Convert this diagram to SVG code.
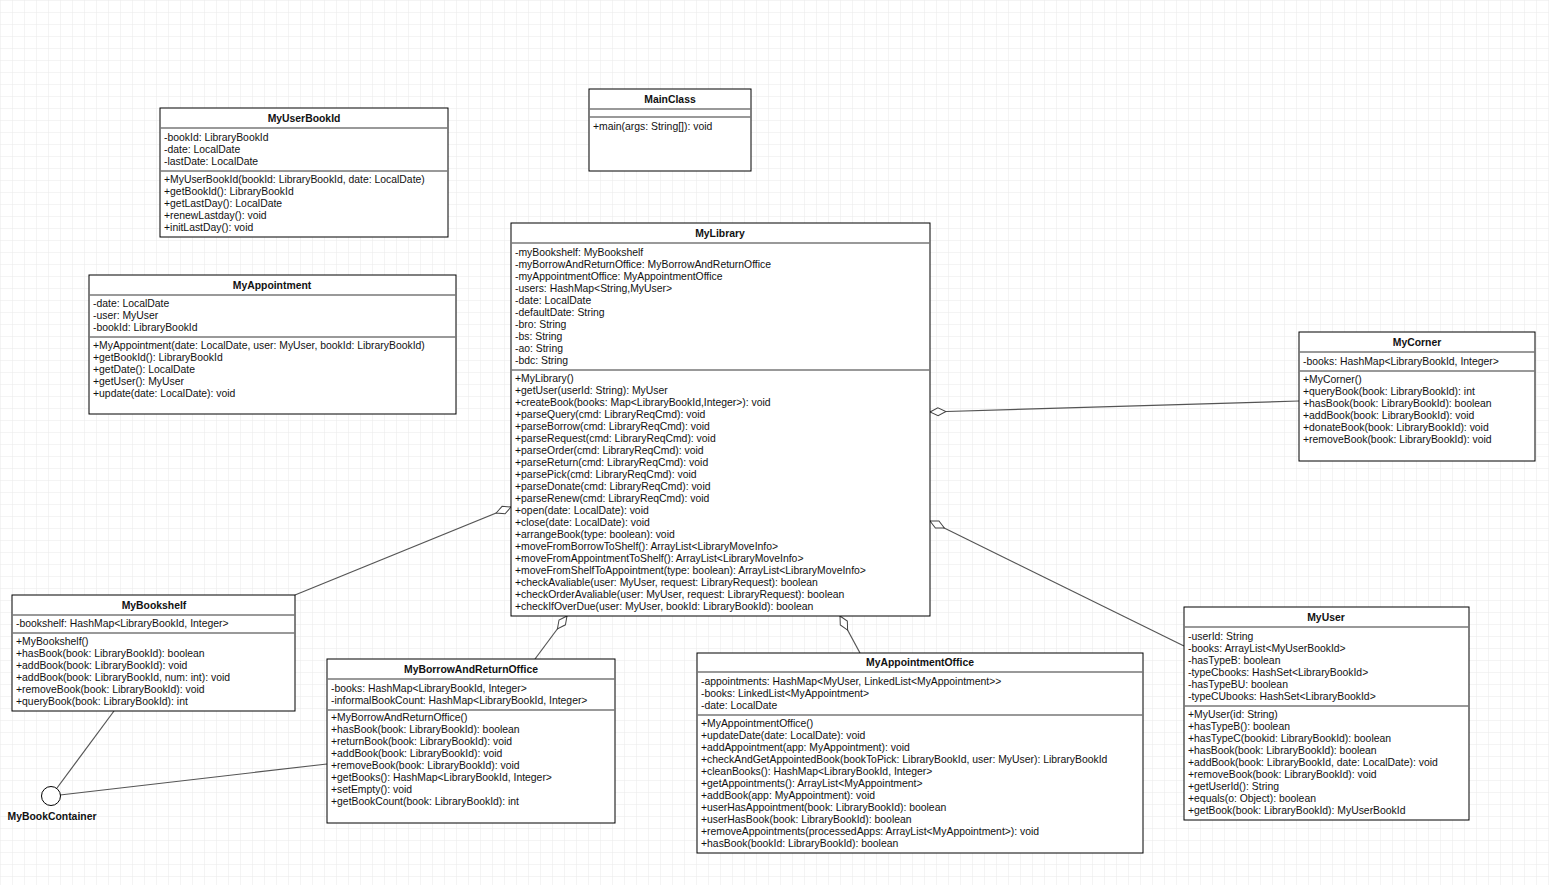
<svg xmlns="http://www.w3.org/2000/svg" width="1549" height="885" viewBox="0 0 1549 885">
<defs>
<pattern id="grid" width="12" height="12" patternUnits="userSpaceOnUse">
<path d="M12 0 L0 0 0 12" fill="none" stroke="#e9e9e9" stroke-width="1"/>
</pattern>
<marker id="dia" viewBox="0 0 18 10" refX="1" refY="5" markerWidth="18" markerHeight="10" markerUnits="userSpaceOnUse" orient="auto">
<path d="M1 5 L9 1 L17 5 L9 9 Z" fill="#fff" stroke="#444" stroke-width="1"/>
</marker>
</defs>
<style>
.box{fill:#fff;stroke:#000;stroke-width:1}
.sep{stroke:#777;stroke-width:1.3}
.t{font-family:"Liberation Sans",Arial,sans-serif;font-size:10.4px;fill:#111}
.h{font-family:"Liberation Sans",Arial,sans-serif;font-size:10.4px;font-weight:bold;fill:#111;text-anchor:middle}
.c{fill:none;stroke:#555;stroke-width:1.2}
</style>
<rect width="1549" height="885" fill="#fff"/>
<rect width="1549" height="885" fill="url(#grid)"/>

<g id="connectors">
<path class="c" d="M511 507 L295 595" marker-start="url(#dia)"/>
<path class="c" d="M567 616 L535 659" marker-start="url(#dia)"/>
<path class="c" d="M840 616 L860 653" marker-start="url(#dia)"/>
<path class="c" d="M930 521 L1184 646" marker-start="url(#dia)"/>
<path class="c" d="M930 412 L1299 401" marker-start="url(#dia)"/>
<path class="c" d="M57 788 L114 711"/>
<path class="c" d="M60 795 L327 764"/>
</g>

<g id="MyUserBookId">
<rect class="box" x="160" y="108" width="288" height="129"/>
<text class="h" x="304" y="122">MyUserBookId</text>
<line class="sep" x1="160" y1="128" x2="448" y2="128"/>
<text class="t" x="164" y="141">-bookId: LibraryBookId</text>
<text class="t" x="164" y="153">-date: LocalDate</text>
<text class="t" x="164" y="165">-lastDate: LocalDate</text>
<line class="sep" x1="160" y1="171" x2="448" y2="171"/>
<text class="t" x="164" y="183">+MyUserBookId(bookId: LibraryBookId, date: LocalDate)</text>
<text class="t" x="164" y="195">+getBookId(): LibraryBookId</text>
<text class="t" x="164" y="207">+getLastDay(): LocalDate</text>
<text class="t" x="164" y="219">+renewLastday(): void</text>
<text class="t" x="164" y="231">+initLastDay(): void</text>
</g>

<g id="MainClass">
<rect class="box" x="589" y="89" width="162" height="82"/>
<text class="h" x="670" y="103">MainClass</text>
<line class="sep" x1="589" y1="109" x2="751" y2="109"/>
<line class="sep" x1="589" y1="117" x2="751" y2="117"/>
<text class="t" x="593" y="130">+main(args: String[]): void</text>
</g>

<g id="MyAppointment">
<rect class="box" x="89" y="275" width="367" height="139"/>
<text class="h" x="272" y="289">MyAppointment</text>
<line class="sep" x1="89" y1="295" x2="456" y2="295"/>
<text class="t" x="93" y="307">-date: LocalDate</text>
<text class="t" x="93" y="319">-user: MyUser</text>
<text class="t" x="93" y="331">-bookId: LibraryBookId</text>
<line class="sep" x1="89" y1="337" x2="456" y2="337"/>
<text class="t" x="93" y="349">+MyAppointment(date: LocalDate, user: MyUser, bookId: LibraryBookId)</text>
<text class="t" x="93" y="361">+getBookId(): LibraryBookId</text>
<text class="t" x="93" y="373">+getDate(): LocalDate</text>
<text class="t" x="93" y="385">+getUser(): MyUser</text>
<text class="t" x="93" y="397">+update(date: LocalDate): void</text>
</g>

<g id="MyLibrary">
<rect class="box" x="511" y="223" width="419" height="393"/>
<text class="h" x="720" y="237">MyLibrary</text>
<line class="sep" x1="511" y1="243" x2="930" y2="243"/>
<text class="t" x="515" y="256">-myBookshelf: MyBookshelf</text>
<text class="t" x="515" y="268">-myBorrowAndReturnOffice: MyBorrowAndReturnOffice</text>
<text class="t" x="515" y="280">-myAppointmentOffice: MyAppointmentOffice</text>
<text class="t" x="515" y="292">-users: HashMap&lt;String,MyUser&gt;</text>
<text class="t" x="515" y="304">-date: LocalDate</text>
<text class="t" x="515" y="316">-defaultDate: String</text>
<text class="t" x="515" y="328">-bro: String</text>
<text class="t" x="515" y="340">-bs: String</text>
<text class="t" x="515" y="352">-ao: String</text>
<text class="t" x="515" y="364">-bdc: String</text>
<line class="sep" x1="511" y1="370" x2="930" y2="370"/>
<text class="t" x="515" y="382">+MyLibrary()</text>
<text class="t" x="515" y="394">+getUser(userId: String): MyUser</text>
<text class="t" x="515" y="406">+createBook(books: Map&lt;LibraryBookId,Integer&gt;): void</text>
<text class="t" x="515" y="418">+parseQuery(cmd: LibraryReqCmd): void</text>
<text class="t" x="515" y="430">+parseBorrow(cmd: LibraryReqCmd): void</text>
<text class="t" x="515" y="442">+parseRequest(cmd: LibraryReqCmd): void</text>
<text class="t" x="515" y="454">+parseOrder(cmd: LibraryReqCmd): void</text>
<text class="t" x="515" y="466">+parseReturn(cmd: LibraryReqCmd): void</text>
<text class="t" x="515" y="478">+parsePick(cmd: LibraryReqCmd): void</text>
<text class="t" x="515" y="490">+parseDonate(cmd: LibraryReqCmd): void</text>
<text class="t" x="515" y="502">+parseRenew(cmd: LibraryReqCmd): void</text>
<text class="t" x="515" y="514">+open(date: LocalDate): void</text>
<text class="t" x="515" y="526">+close(date: LocalDate): void</text>
<text class="t" x="515" y="538">+arrangeBook(type: boolean): void</text>
<text class="t" x="515" y="550">+moveFromBorrowToShelf(): ArrayList&lt;LibraryMoveInfo&gt;</text>
<text class="t" x="515" y="562">+moveFromAppointmentToShelf(): ArrayList&lt;LibraryMoveInfo&gt;</text>
<text class="t" x="515" y="574">+moveFromShelfToAppointment(type: boolean): ArrayList&lt;LibraryMoveInfo&gt;</text>
<text class="t" x="515" y="586">+checkAvaliable(user: MyUser, request: LibraryRequest): boolean</text>
<text class="t" x="515" y="598">+checkOrderAvaliable(user: MyUser, request: LibraryRequest): boolean</text>
<text class="t" x="515" y="610">+checkIfOverDue(user: MyUser, bookId: LibraryBookId): boolean</text>
</g>

<g id="MyCorner">
<rect class="box" x="1299" y="332" width="236" height="129"/>
<text class="h" x="1417" y="346">MyCorner</text>
<line class="sep" x1="1299" y1="352" x2="1535" y2="352"/>
<text class="t" x="1303" y="365">-books: HashMap&lt;LibraryBookId, Integer&gt;</text>
<line class="sep" x1="1299" y1="371" x2="1535" y2="371"/>
<text class="t" x="1303" y="383">+MyCorner()</text>
<text class="t" x="1303" y="395">+queryBook(book: LibraryBookId): int</text>
<text class="t" x="1303" y="407">+hasBook(book: LibraryBookId): boolean</text>
<text class="t" x="1303" y="419">+addBook(book: LibraryBookId): void</text>
<text class="t" x="1303" y="431">+donateBook(book: LibraryBookId): void</text>
<text class="t" x="1303" y="443">+removeBook(book: LibraryBookId): void</text>
</g>

<g id="MyBookshelf">
<rect class="box" x="12" y="595" width="283" height="116"/>
<text class="h" x="154" y="609">MyBookshelf</text>
<line class="sep" x1="12" y1="615" x2="295" y2="615"/>
<text class="t" x="16" y="627">-bookshelf: HashMap&lt;LibraryBookId, Integer&gt;</text>
<line class="sep" x1="12" y1="633" x2="295" y2="633"/>
<text class="t" x="16" y="645">+MyBookshelf()</text>
<text class="t" x="16" y="657">+hasBook(book: LibraryBookId): boolean</text>
<text class="t" x="16" y="669">+addBook(book: LibraryBookId): void</text>
<text class="t" x="16" y="681">+addBook(book: LibraryBookId, num: int): void</text>
<text class="t" x="16" y="693">+removeBook(book: LibraryBookId): void</text>
<text class="t" x="16" y="705">+queryBook(book: LibraryBookId): int</text>
</g>

<g id="MyBookContainer">
<circle cx="51" cy="796" r="9.5" fill="#fff" stroke="#000" stroke-width="1"/>
<text class="h" x="52" y="820">MyBookContainer</text>
</g>

<g id="MyBorrowAndReturnOffice">
<rect class="box" x="327" y="659" width="288" height="164"/>
<text class="h" x="471" y="673">MyBorrowAndReturnOffice</text>
<line class="sep" x1="327" y1="679" x2="615" y2="679"/>
<text class="t" x="331" y="692">-books: HashMap&lt;LibraryBookId, Integer&gt;</text>
<text class="t" x="331" y="704">-informalBookCount: HashMap&lt;LibraryBookId, Integer&gt;</text>
<line class="sep" x1="327" y1="710" x2="615" y2="710"/>
<text class="t" x="331" y="721">+MyBorrowAndReturnOffice()</text>
<text class="t" x="331" y="733">+hasBook(book: LibraryBookId): boolean</text>
<text class="t" x="331" y="745">+returnBook(book: LibraryBookId): void</text>
<text class="t" x="331" y="757">+addBook(book: LibraryBookId): void</text>
<text class="t" x="331" y="769">+removeBook(book: LibraryBookId): void</text>
<text class="t" x="331" y="781">+getBooks(): HashMap&lt;LibraryBookId, Integer&gt;</text>
<text class="t" x="331" y="793">+setEmpty(): void</text>
<text class="t" x="331" y="805">+getBookCount(book: LibraryBookId): int</text>
</g>

<g id="MyAppointmentOffice">
<rect class="box" x="697" y="653" width="446" height="200"/>
<text class="h" x="920" y="666">MyAppointmentOffice</text>
<line class="sep" x1="697" y1="672" x2="1143" y2="672"/>
<text class="t" x="701" y="685">-appointments: HashMap&lt;MyUser, LinkedList&lt;MyAppointment&gt;&gt;</text>
<text class="t" x="701" y="697">-books: LinkedList&lt;MyAppointment&gt;</text>
<text class="t" x="701" y="709">-date: LocalDate</text>
<line class="sep" x1="697" y1="715" x2="1143" y2="715"/>
<text class="t" x="701" y="727">+MyAppointmentOffice()</text>
<text class="t" x="701" y="739">+updateDate(date: LocalDate): void</text>
<text class="t" x="701" y="751">+addAppointment(app: MyAppointment): void</text>
<text class="t" x="701" y="763">+checkAndGetAppointedBook(bookToPick: LibraryBookId, user: MyUser): LibraryBookId</text>
<text class="t" x="701" y="775">+cleanBooks(): HashMap&lt;LibraryBookId, Integer&gt;</text>
<text class="t" x="701" y="787">+getAppointments(): ArrayList&lt;MyAppointment&gt;</text>
<text class="t" x="701" y="799">+addBook(app: MyAppointment): void</text>
<text class="t" x="701" y="811">+userHasAppointment(book: LibraryBookId): boolean</text>
<text class="t" x="701" y="823">+userHasBook(book: LibraryBookId): boolean</text>
<text class="t" x="701" y="835">+removeAppointments(processedApps: ArrayList&lt;MyAppointment&gt;): void</text>
<text class="t" x="701" y="847">+hasBook(bookId: LibraryBookId): boolean</text>
</g>

<g id="MyUser">
<rect class="box" x="1184" y="607" width="285" height="213"/>
<text class="h" x="1326" y="621">MyUser</text>
<line class="sep" x1="1184" y1="627" x2="1469" y2="627"/>
<text class="t" x="1188" y="640">-userId: String</text>
<text class="t" x="1188" y="652">-books: ArrayList&lt;MyUserBookId&gt;</text>
<text class="t" x="1188" y="664">-hasTypeB: boolean</text>
<text class="t" x="1188" y="676">-typeCbooks: HashSet&lt;LibraryBookId&gt;</text>
<text class="t" x="1188" y="688">-hasTypeBU: boolean</text>
<text class="t" x="1188" y="700">-typeCUbooks: HashSet&lt;LibraryBookId&gt;</text>
<line class="sep" x1="1184" y1="706" x2="1469" y2="706"/>
<text class="t" x="1188" y="718">+MyUser(id: String)</text>
<text class="t" x="1188" y="730">+hasTypeB(): boolean</text>
<text class="t" x="1188" y="742">+hasTypeC(bookid: LibraryBookId): boolean</text>
<text class="t" x="1188" y="754">+hasBook(book: LibraryBookId): boolean</text>
<text class="t" x="1188" y="766">+addBook(book: LibraryBookId, date: LocalDate): void</text>
<text class="t" x="1188" y="778">+removeBook(book: LibraryBookId): void</text>
<text class="t" x="1188" y="790">+getUserId(): String</text>
<text class="t" x="1188" y="802">+equals(o: Object): boolean</text>
<text class="t" x="1188" y="814">+getBook(book: LibraryBookId): MyUserBookId</text>
</g>
</svg>
